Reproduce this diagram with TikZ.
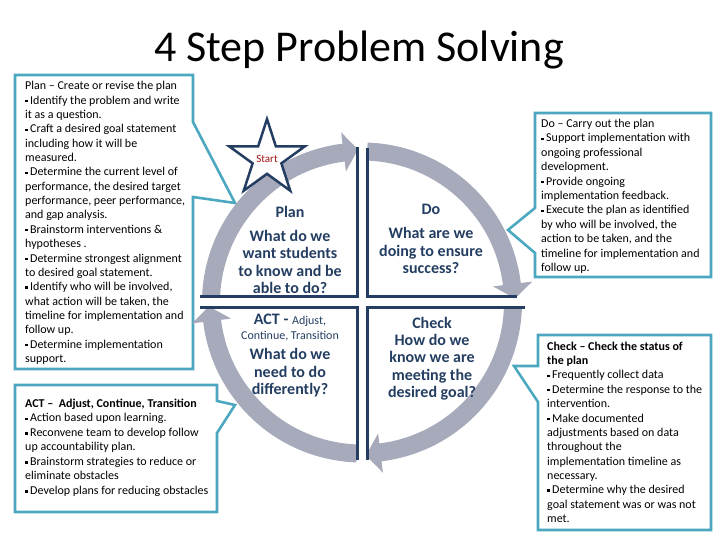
\documentclass[tikz,border=0pt]{standalone}
\usepackage{fontspec}
\setmainfont{Carlito}
\usetikzlibrary{shapes.geometric}
\definecolor{calloutteal}{RGB}{75,168,192}
\definecolor{cyclenavy}{RGB}{36,62,98}
\definecolor{cyclegray}{RGB}{166,170,187}
\definecolor{startred}{RGB}{160,20,20}
\newcommand{\bulsq}{\raisebox{1.9pt}{\rule{2.4pt}{2.4pt}}\hspace{2.6pt}}

\begin{document}
\begin{tikzpicture}[x=1pt,y=1pt,
  callout/.style={draw=calloutteal,line width=2.6pt,line join=miter},
  calltext/.style={anchor=base west,align=left,inner sep=0pt,font=\fontsize{12}{14.35}\selectfont},
  quadline/.style={draw=cyclenavy,line width=3pt},
  quadtext/.style={anchor=base,align=center,inner sep=0pt,text=cyclenavy,font=\fontsize{16}{17.3}\selectfont\bfseries},
  cyclearrow/.style={fill=cyclegray}]
  \useasboundingbox (0,0) rectangle (720,540);
  % Title
  \node[anchor=base,inner sep=0pt,font=\fontsize{44}{52}\selectfont] (title) at (359,478) {4 Step Problem Solving};
  % Callout boxes
  \draw[callout] (15,465) -- (193,465) -- (193,418) -- (235,337) -- (193,343) -- (193,171) -- (15,171) -- cycle;
  \draw[callout] (15,155) -- (217,155) -- (217,139) -- (235,135) -- (217,107) -- (217,28) -- (15,28) -- cycle;
  \draw[callout] (535,427) -- (711,427) -- (711,263) -- (535,263) -- (535,287) -- (508,310) -- (535,332) -- cycle;
  \draw[callout] (538,205) -- (711,205) -- (711,10) -- (538,10) -- (538,138) -- (514,174) -- (538,174) -- cycle;
  % Cycle arrows
  \begin{scope}[shift={(362,237.5)}]
    \foreach \sa in {178,88,-2,-92} {
      \pgfmathsetmacro{\tipa}{\sa-86.5}
      \pgfmathsetmacro{\basea}{\sa-81}
      \fill[cyclearrow] (\sa:160) arc[start angle=\sa,end angle=\basea,radius=160]
        -- (\basea:171.5) -- (\tipa:153) -- (\basea:132) -- (\basea:142)
        arc[start angle=\basea,end angle=\sa,radius=142] -- cycle;
    }
  \end{scope}
  % Quadrant borders
  \draw[quadline] (357,393) -- (357,243) -- (200,243);
  \draw[quadline] (367,392) -- (367,243) -- (517,243);
  \draw[quadline] (200,232) -- (357,232) -- (357,80);
  \draw[quadline] (367,80) -- (367,232) -- (525,232);
  % Start star
  \node[star,star points=5,star point ratio=2.618,minimum size=77.4pt,inner sep=0pt,
    draw=cyclenavy,line width=2.5pt,fill=white,text=startred,font=\fontsize{11}{13}\selectfont] (start) at (267,381.3) {Start};
  % Quadrant texts (anchored at the last line)
  \node[quadtext] (plan) at (290,246.5) {Plan\\[6.7pt]What do we\\want students\\to know and be\\able to do?};
  \node[quadtext] (do) at (431,266.5) {Do\\[6.7pt]What are we\\doing to ensure\\success?};
  \node[quadtext] (act) at (290,145.5) {ACT - {\fontsize{12}{14}\selectfont\mdseries Adjust,}\\[-2.3pt]
    {\fontsize{12}{14}\selectfont\mdseries Continue, Transition}\\[2.7pt]What do we\\need to do\\differently?};
  \node[quadtext] (check) at (432,142.5) {Check\\How do we\\know we are\\meeting the\\desired goal?};
  % Callout texts (anchored at the last line)
  \node[calltext] (plantext) at (25,177.5) {Plan – Create or revise the plan\\
    \bulsq Identify the problem and write\\
    it as a question.\\
    \bulsq Craft a desired goal statement\\
    including how it will be\\
    measured.\\
    \bulsq Determine the current level of\\
    performance, the desired  target\\
    performance, peer performance,\\
    and gap analysis.\\
    \bulsq Brainstorm interventions \&\\
    hypotheses .\\
    \bulsq Determine strongest alignment\\
    to desired goal statement.\\
    \bulsq Identify who will be involved,\\
    what action will be taken, the\\
    timeline for implementation and\\
    follow up.\\
    \bulsq Determine implementation\\
    support.};
  \node[calltext,font=\fontsize{12}{14.5}\selectfont] (acttext) at (25,45.5) {\textbf{ACT –\ \ Adjust, Continue, Transition}\\
    \bulsq Action based upon learning.\\
    \bulsq Reconvene team to develop follow\\
    up accountability plan.\\
    \bulsq Brainstorm strategies to reduce or\\
    eliminate obstacles\\
    \bulsq Develop plans for reducing obstacles};
  \node[calltext,font=\fontsize{12}{14.4}\selectfont] (dotext) at (541,268.5) {Do – Carry out the plan\\
    \bulsq Support implementation with\\
    ongoing professional\\
    development.\\
    \bulsq Provide ongoing\\
    implementation feedback.\\
    \bulsq Execute the plan as identified\\
    by who will be involved, the\\
    action to be taken, and the\\
    timeline for implementation and\\
    follow up.};
  \node[calltext] (checktext) at (547,17.5) {\textbf{Check – Check the status of}\\
    \textbf{the plan}\\
    \bulsq Frequently collect data\\
    \bulsq Determine the response to the\\
    intervention.\\
    \bulsq Make documented\\
    adjustments based on data\\
    throughout the\\
    implementation timeline as\\
    necessary.\\
    \bulsq Determine why the desired\\
    goal statement was or was not\\
    met.};
\end{tikzpicture}
\end{document}
